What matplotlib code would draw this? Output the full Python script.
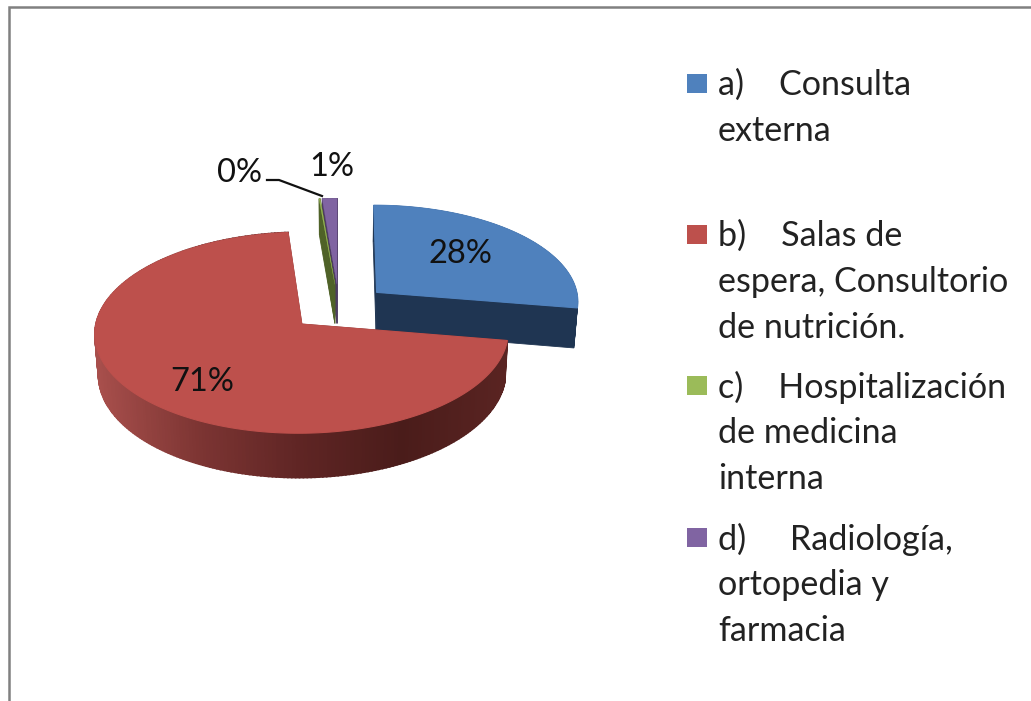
import numpy as np
import matplotlib
matplotlib.use('Agg')
import matplotlib.pyplot as plt
from matplotlib.colors import LinearSegmentedColormap
from matplotlib.patches import Rectangle

# Data
categories = ['a', 'b', 'c', 'd']
shares = [27.6, 71.0, 0.1, 1.3]
legend_lines = [
    ['a)    Consulta', 'externa'],
    ['b)    Salas de', 'espera, Consultorio', 'de nutrición.'],
    ['c)    Hospitalización', 'de medicina', 'interna'],
    ['d)     Radiología,', 'ortopedia y', 'farmacia'],
]

top_colors = ['#4f81bd', '#bd504c', '#9bbb59', '#8064a2']
wall_colors = ['#1f3552', '#5f2524', '#4f6228', '#4d3c62']
red_wall = LinearSegmentedColormap.from_list(
    'red_wall', ['#a84f4c', '#7d3533', '#5f2524', '#4a1c1a', '#5a2422'])

# Pie geometry, in pixels of the picture
cx, cy = 339, 307.6
rx, ry = 203, 97
persp = 0.0846
explode = 0.246
depth = 40


def project(u, v, low=False):
    # perspective view of the pie plane
    s = 1 / (1 - persp * v)
    x = cx + rx * u * s
    y = cy + ry * v * s
    if low:
        x = cx + (x - cx) * 0.985
        y = y + depth * s
    return x, y


plt.rcParams['font.family'] = ['Lato', 'DejaVu Sans']
fig = plt.figure(figsize=(10.31, 7.01), dpi=100)
ax = fig.add_axes([0, 0, 1, 1])
ax.set_xlim(0, 1031)
ax.set_ylim(701, 0)
ax.axis('off')

# grey frame of the slide
ax.plot([9, 9, 1031], [701, 7, 7], color='#808080', lw=1.8, solid_joinstyle='miter')

# slice angles, clockwise from the back of the pie
edges = np.radians(np.cumsum([0] + shares) / np.sum(shares) * 360)

# far slices first so the nearer ones cover them
for i in [3, 2, 0, 1]:
    a0, a1 = edges[i], edges[i + 1]
    mid = (a0 + a1) / 2
    ox, oy = explode * np.sin(mid), -explode * np.cos(mid)
    th = np.linspace(a0, a1, max(3, int(np.degrees(a1 - a0))))
    u = ox + np.sin(th)
    v = oy - np.cos(th)

    # radial walls
    for j in [0, -1]:
        x1, y1 = project(np.array([ox, u[j]]), np.array([oy, v[j]]))
        x2, y2 = project(np.array([ox, u[j]]), np.array([oy, v[j]]), low=True)
        ax.fill(np.r_[x1, x2[::-1]], np.r_[y1, y2[::-1]], color=wall_colors[i], lw=0.6)

    # outer wall, in strips for the shading
    xt, yt = project(u, v)
    xb, yb = project(u, v, low=True)
    for j in range(len(th) - 1):
        if i == 1:
            col = red_wall(np.clip((xt[j] - 95) / 412, 0, 1))
        else:
            col = wall_colors[i]
        ax.fill([xt[j], xt[j + 1], xb[j + 1], xb[j]], [yt[j], yt[j + 1], yb[j + 1], yb[j]],
                color=col, lw=1.2 if i == 1 else 0.3)

    # top face
    ax_, ay_ = project(ox, oy)
    ax.fill(np.r_[ax_, xt], np.r_[ay_, yt], color=top_colors[i], lw=0.8 if i < 2 else 0.2)

# percentage labels
pct = ['%.0f%%' % s for s in shares]
label_pos = [(460, 254), (202, 382), (239, 173), (332, 167)]
for txt, (lx, ly) in zip(pct, label_pos):
    ax.text(lx, ly, txt, fontsize=23.5, color='#111111', ha='center', va='center')
ax.plot([267, 279, 322], [180, 180, 196], color='#111111', lw=1.6)

# legend
first_line = [85, 236, 387, 539]
for i in range(len(categories)):
    ax.add_patch(Rectangle((687, first_line[i] - 11), 20, 19, color=top_colors[i], lw=0))
    for n, line in enumerate(legend_lines[i]):
        ax.text(718, first_line[i] + n * 46, line, fontsize=24.6, color='#222222',
                ha='left', va='center')

fig.savefig('out.png', dpi=100)
